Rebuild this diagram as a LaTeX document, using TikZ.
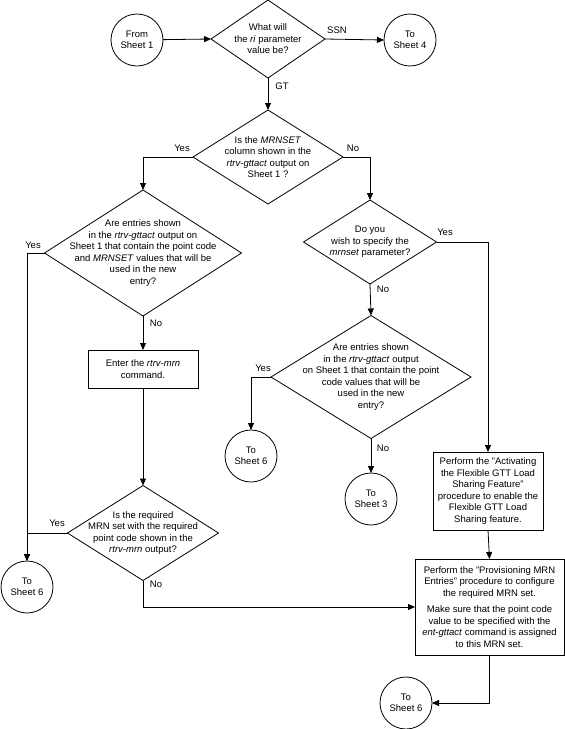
\documentclass[tikz,border=0pt]{standalone}
\usepackage{fontspec}
\setmainfont{Liberation Sans}
\usetikzlibrary{arrows.meta}
\usetikzlibrary{shapes.geometric}

\begin{document}
\begin{tikzpicture}[x=1pt,y=-1pt,
  font=\fontsize{9.5}{11.5}\selectfont,
  flow/.style={-{Triangle[length=7pt,width=6pt]}, line width=0.8pt},
  decision/.style={draw, diamond, inner sep=0pt, outer sep=0pt, line width=0.8pt},
  sheet/.style={draw, circle, minimum size=52pt, inner sep=0pt, outer sep=0pt, align=center, line width=0.8pt},
  stepbox/.style={draw, rectangle, align=center, inner sep=1pt, outer sep=0pt, line width=0.8pt}]
\useasboundingbox (0,0) rectangle (565,729);

% top row
\node[sheet] (from1) at (137,40) {From\\Sheet 1};
\node[decision, minimum width=114pt, minimum height=78pt,
  label={[align=center]center:{What will\\the \textit{ri} parameter\\value be?}}] (ri) at (268,39) {};
\node[sheet] (to4) at (410,40) {To\\Sheet 4};
\draw[flow] (from1) -- (ri.west);
\draw[flow] (ri.east) -- (to4.west);
\node (ssn) at (337,30) {SSN};
\node (gt) at (282,86) {GT};

% MRNSET column?
\node[decision, minimum width=150pt, minimum height=94pt,
  label={[align=center]center:{Is the \textit{MRNSET}\\column shown in the\\\textit{rtrv-gttact} output on\\Sheet 1 ?}}] (mrnset) at (268,157) {};
\draw[flow] (ri.south) -- (mrnset.north);
\node (yes1) at (182,148) {Yes};
\node (no1) at (353,148) {No};

% left branch
\node[decision, minimum width=197pt, minimum height=126pt,
  label={[align=center]center:{Are entries shown\\in the \textit{rtrv-gttact} output on\\Sheet 1 that contain the point code\\and \textit{MRNSET} values that will be\\used in the new\\entry?}}] (entries1) at (143,253) {};
\draw[flow] (mrnset.west) -| (entries1.north);
\node (yes2) at (33,245) {Yes};
\node (no2) at (156,323) {No};

\node[stepbox, minimum width=110pt, minimum height=38pt] (mrncmd) at (143,369) {Enter the \textit{rtrv-mrn}\\command.};
\draw[flow] (entries1.south) -- (mrncmd.north);

\node[decision, minimum width=151pt, minimum height=95pt,
  label={[align=center]center:{Is the required\\MRN set with the required\\point code shown in the\\\textit{rtrv-mrn} output?}}] (mrnshown) at (143,533) {};
\draw[flow] (mrncmd.south) -- (mrnshown.north);
\node (yes3) at (57,523) {Yes};
\node (no3) at (156,584) {No};

\node[sheet] (to6a) at (27,587) {To\\Sheet 6};
\draw[flow] (entries1.west) -| (to6a.north);
\draw[flow] (mrnshown.west) -| (to6a.north);

% right branch
\node[decision, minimum width=133pt, minimum height=84pt,
  label={[align=center]center:{Do you\\wish to specify the\\\textit{mrnset} parameter?}}] (spec) at (370,242) {};
\draw[flow] (mrnset.east) -| (spec.north);
\node (yes4) at (445,232) {Yes};
\node (no4) at (383,289) {No};

\node[decision, minimum width=200pt, minimum height=123pt,
  label={[align=center]center:{Are entries shown\\in the \textit{rtrv-gttact} output\\on Sheet 1 that contain the point\\code values that will be\\used in the new\\entry?}}] (entries2) at (371,377) {};
\draw[flow] (spec.south) -- (entries2.north);
\node (yes5) at (263,368) {Yes};
\node (no5) at (383,448) {No};

\node[sheet] (to6b) at (251,456) {To\\Sheet 6};
\node[sheet] (to3) at (371,499) {To\\Sheet 3};
\draw[flow] (entries2.west) -| (to6b.north);
\draw[flow] (entries2.south) -- (to3.north);

\node[stepbox, minimum width=110pt, minimum height=78pt] (activate) at (488,491) {Perform the "Activating\\the Flexible GTT Load\\Sharing Feature"\\procedure to enable the\\Flexible GTT Load\\Sharing feature.};
\draw[flow] (spec.east) -| (activate.north);

\node[stepbox, minimum width=149pt, minimum height=96pt] (prov) at (489.5,607) {Perform the "Provisioning MRN\\Entries" procedure to configure\\the required MRN set.\\[5pt]Make sure that the point code\\value to be specified with the\\\textit{ent-gttact} command is assigned\\to this MRN set.};
\draw[flow] (activate.south) -- (prov.north);
\draw[flow] (mrnshown.south) |- (prov.west);

\node[sheet] (to6c) at (406,703) {To\\Sheet 6};
\draw[flow] (prov.south) |- (to6c.east);

\end{tikzpicture}
\end{document}
